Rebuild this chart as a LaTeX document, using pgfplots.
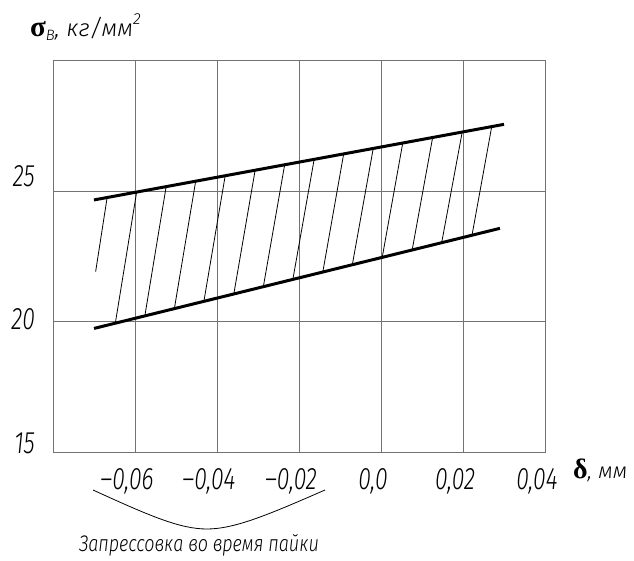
\documentclass[border=0pt]{standalone}
\usepackage{fontspec}
\setmainfont{Fira Sans}[UprightFont={* Light},ItalicFont={* Light Italic},BoldFont={* Light},BoldItalicFont={* Light Italic}]
\newfontfamily\numfont{Fira Sans}[UprightFont={* Light},ItalicFont={* Light Italic},FakeStretch=0.74]
\newfontfamily\capfont{Fira Sans}[UprightFont={* Light},ItalicFont={* Light Italic},FakeStretch=0.8]
\newfontfamily\symfont{Liberation Serif}
\usepackage{pgfplots}
\pgfplotsset{compat=1.18}

\begin{document}
\begin{tikzpicture}[x=1pt,y=1pt]
\useasboundingbox (0,0) rectangle (634,560);
\begin{axis}[
  at={(53pt,108pt)}, anchor=south west,
  width=492pt, height=391pt, scale only axis,
  xmin=-0.08, xmax=0.04, ymin=15, ymax=30,
  scaled x ticks=false, scaled y ticks=false,
  xtick={-0.06,-0.04,-0.02,0,0.02,0.04},
  xticklabels={{–0,06},{–0,04},{–0,02},{0,0},{0,02},{0,04}},
  ytick={15,20,25},
  yticklabels={{\raisebox{7pt}{15}},{20},{\raisebox{13pt}{25}}},
  grid=major,
  major grid style={draw=black!55, line width=1pt},
  axis line style={draw=black!55, line width=1pt},
  major tick length=0pt,
  tick style={draw=none},
  xticklabel style={font=\numfont\itshape\fontsize{31}{32}\selectfont, anchor=north, inner sep=0pt, yshift=-16pt, xshift=-8pt},
  yticklabel style={font=\numfont\itshape\fontsize{31}{32}\selectfont, anchor=base east, inner sep=0pt, xshift=-18pt, yshift=-8pt},
  clip=false,
]
% strength band: upper and lower bounds
\addplot[black, line width=3pt] coordinates {(-0.070,24.67) (0.030,27.57)};
\addplot[black, line width=3pt] coordinates {(-0.070,19.74) (0.029,23.58)};
% hatching between the bounds
\addplot[black, line width=0.8pt] coordinates {(-0.0668,24.76) (-0.0696,21.92)};
\addplot[black, line width=0.8pt] coordinates {(-0.0596,24.97) (-0.0648,19.94)};
\addplot[black, line width=0.8pt] coordinates {(-0.0524,25.18) (-0.0576,20.22)};
\addplot[black, line width=0.8pt] coordinates {(-0.0452,25.39) (-0.0504,20.50)};
\addplot[black, line width=0.8pt] coordinates {(-0.0380,25.60) (-0.0432,20.78)};
\addplot[black, line width=0.8pt] coordinates {(-0.0307,25.81) (-0.0359,21.06)};
\addplot[black, line width=0.8pt] coordinates {(-0.0235,26.02) (-0.0287,21.34)};
\addplot[black, line width=0.8pt] coordinates {(-0.0163,26.23) (-0.0215,21.62)};
\addplot[black, line width=0.8pt] coordinates {(-0.0091,26.44) (-0.0142,21.90)};
\addplot[black, line width=0.8pt] coordinates {(-0.0019,26.64) (-0.0070,22.18)};
\addplot[black, line width=0.8pt] coordinates {(0.0053,26.85) (0.0003,22.47)};
\addplot[black, line width=0.8pt] coordinates {(0.0126,27.07) (0.0076,22.75)};
\addplot[black, line width=0.8pt] coordinates {(0.0198,27.27) (0.0148,23.03)};
\addplot[black, line width=0.8pt] coordinates {(0.0270,27.48) (0.0222,23.32)};
\end{axis}
% axis titles
\node[anchor=base west, inner sep=0pt] at (30,523)
  {{\symfont\bfseries\fontsize{29}{29}\selectfont σ}\raisebox{-4pt}{\itshape\fontsize{15}{15}\selectfont В}{\itshape\fontsize{24}{24}\selectfont, кг/мм\raisebox{12pt}{\fontsize{16}{16}\selectfont 2}}};
\node[anchor=base west, inner sep=0pt] at (573,82)
  {{\symfont\bfseries\fontsize{28}{28}\selectfont δ}{\itshape\fontsize{22}{22}\selectfont, мм}};
% bracket under the negative interference range
\draw[line width=0.8pt] (93,70) .. controls (150,44) and (180,31) .. (207,31)
  .. controls (235,31) and (270,46) .. (325,70);
\node[anchor=base, inner sep=0pt] at (199,9)
  {\capfont\itshape\fontsize{22.5}{23}\selectfont Запрессовка во время пайки};
\end{tikzpicture}
\end{document}
